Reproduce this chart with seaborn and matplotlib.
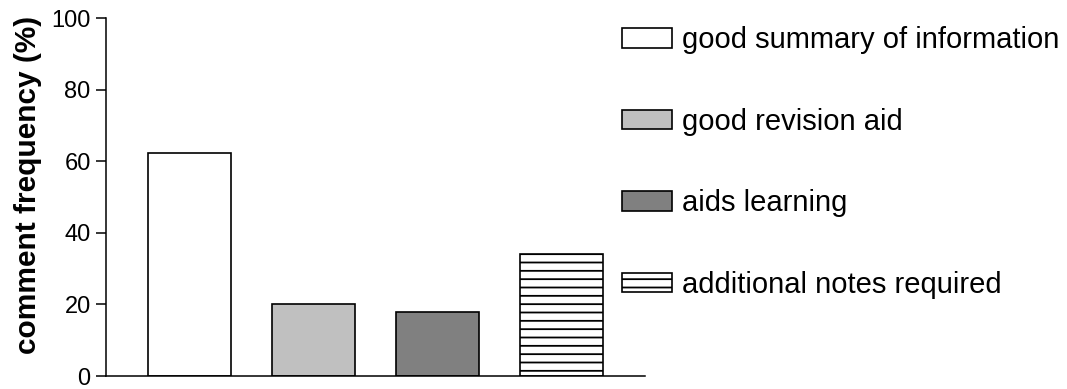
import matplotlib
matplotlib.use("Agg")
import matplotlib.pyplot as plt
import seaborn as sns
import pandas as pd

# comment categories and how often each came up (%)
categorias = ["good summary of information", "good revision aid",
              "aids learning", "additional notes required"]
frecuencia = [62.3, 20.1, 17.9, 34.1]
colores = ["#FFFFFF", "#C0C0C0", "#808080", "#FFFFFF"]
tramas = ["", "", "", "--"]

sns.set_style("ticks")
plt.rcParams["font.family"] = ["Liberation Sans", "DejaVu Sans"]
plt.rcParams["text.color"] = "black"
plt.rcParams["hatch.linewidth"] = 1.3

df = pd.DataFrame({"comentario": categorias, "freq": frecuencia})

fig = plt.figure(figsize=(10.67, 3.89), dpi=100)
ax = fig.add_axes([0.0993, 0.0334, 0.5052, 0.9203])

sns.barplot(data=df, x="comentario", y="freq", hue="comentario",
            palette=colores, width=0.67, edgecolor="black", linewidth=1.2,
            saturation=1, legend=False, ax=ax)

for barra, trama in zip(ax.patches, tramas):
    barra.set_hatch(trama)

ax.set_xlim(-0.673, 3.673)
ax.set_ylim(0, 100)
ax.set_yticks([0, 20, 40, 60, 80, 100])
ax.set_xticks([])
ax.set_xlabel("")
ax.set_ylabel("comment frequency (%)", fontsize=21.5, fontweight="bold",
              color="black")
ax.yaxis.set_label_coords(-0.118, 0.5335)
ax.tick_params(axis="y", labelsize=17, length=7.5, width=1.1,
               colors="black", pad=3.5)
for lado in ["left", "bottom"]:
    ax.spines[lado].set_linewidth(1.1)
    ax.spines[lado].set_color("black")
sns.despine(ax=ax)

ax.legend(handles=list(ax.patches), labels=categorias,
          loc="upper left", bbox_to_anchor=(0.583, 0.932),
          bbox_transform=fig.transFigure, frameon=False, fontsize=21,
          handlelength=1.72, handleheight=0.65, handletextpad=0.35,
          labelspacing=1.83, borderpad=0, borderaxespad=0)

fig.savefig("out.png", dpi=100)
